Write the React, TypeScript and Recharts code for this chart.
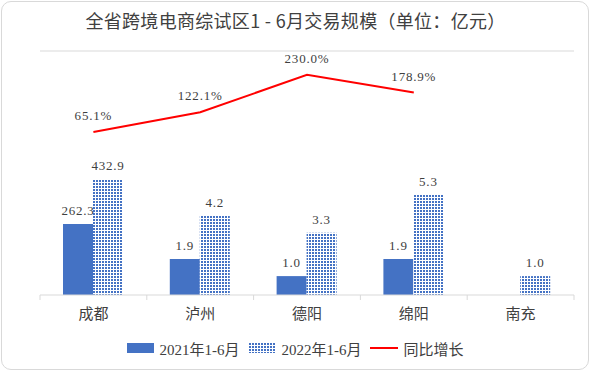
import { ComposedChart, Bar, Line, XAxis, YAxis, LabelList, ReferenceLine } from 'recharts';

const cities = ['成都', '泸州', '德阳', '绵阳', '南充'];
// bar heights as drawn in the picture (成都 is drawn shorter than its label says)
const h2021 = [3.76, 1.9, 1.0, 1.9, null];
const h2022 = [6.14, 4.2, 3.3, 5.3, 1.0];
const labels2021 = ['262.3', '1.9', '1.0', '1.9', ''];
const labels2022 = ['432.9', '4.2', '3.3', '5.3', '1.0'];
const growth = [65.1, 122.1, 230.0, 178.9, null];

const data = cities.map((city, i) => ({
  city,
  v2021: h2021[i],
  v2022: h2022[i],
  l2021: labels2021[i],
  l2022: labels2022[i],
  growth: growth[i],
  lGrowth: growth[i] == null ? '' : `${growth[i]!.toFixed(1)}%`,
}));

const W = 591;
const H = 372;
const margin = { top: 51, right: 17, bottom: 47, left: 40 };
const band = (W - margin.left - margin.right) / cities.length;
const BAR_TOP = 12.91;

const BLUE = '#4472C4';
const GRID = '#d9d9d9';
const TEXT = '#404040';
const SERIF = "'Liberation Serif', 'Noto Sans CJK SC', serif";

function CityTick({ x, y, payload, index }: any) {
  const left = x - band / 2;
  return (
    <g>
      <line x1={left} y1={y} x2={left} y2={y + 5} stroke={GRID} />
      {index === cities.length - 1 && (
        <line x1={x + band / 2} y1={y} x2={x + band / 2} y2={y + 5} stroke={GRID} />
      )}
      <text x={x} y={y + 19} textAnchor="middle" dominantBaseline="central" fill={TEXT} fontSize={15} fontFamily={SERIF}>
        {payload.value}
      </text>
    </g>
  );
}

const labelStyle = { fill: TEXT, fontSize: 13, fontFamily: SERIF, letterSpacing: 0.8 };

function Mesh({ id }: { id: string }) {
  return (
    <pattern id={id} width="3" height="3" patternUnits="userSpaceOnUse">
      <rect width="3" height="3" fill="#fff" />
      <rect width="2" height="2" fill={BLUE} />
    </pattern>
  );
}

export default function App() {
  return (
    <div style={{ position: 'fixed', left: 0, top: 0, width: W, height: H, background: '#fff' }}>
      <div
        style={{
          position: 'absolute', left: 1, top: 1, width: 586, height: 367,
          border: `1px solid ${GRID}`, borderRadius: 10, background: '#fff',
        }}
      />
      <div
        style={{
          position: 'absolute', left: 0, top: 7, width: W, textAlign: 'center',
          fontFamily: "'Noto Sans CJK SC', sans-serif", fontSize: 18, color: TEXT, letterSpacing: 0.3,
        }}
      >
        全省跨境电商综试区1 - 6月交易规模（单位：亿元）
      </div>
      <div style={{ position: 'absolute', left: 0, top: 0 }}>
        <ComposedChart width={W} height={H} data={data} margin={margin} barGap={0} barSize={30}>
          <defs>
            <Mesh id="mesh" />
          </defs>
          <XAxis
            dataKey="city"
            height={30}
            axisLine={{ stroke: GRID }}
            tickLine={false}
            tickSize={0}
            tickMargin={0}
            tick={<CityTick />}
            interval={0}
          />
          <YAxis yAxisId="bar" hide domain={[0, BAR_TOP]} />
          <YAxis yAxisId="rate" hide orientation="right" domain={[-406, 299]} />
          <ReferenceLine yAxisId="bar" y={BAR_TOP} stroke={GRID} />
          <Bar yAxisId="bar" dataKey="v2021" fill={BLUE} isAnimationActive={false}>
            <LabelList dataKey="l2021" position="top" offset={9} style={labelStyle} />
          </Bar>
          <Bar yAxisId="bar" dataKey="v2022" fill="url(#mesh)" isAnimationActive={false}>
            <LabelList dataKey="l2022" position="top" offset={9} style={labelStyle} />
          </Bar>
          <Line
            yAxisId="rate"
            dataKey="growth"
            stroke="#FF0000"
            strokeWidth={2}
            dot={false}
            activeDot={false}
            isAnimationActive={false}
          >
            <LabelList dataKey="lGrowth" position="top" offset={12} style={labelStyle} />
          </Line>
        </ComposedChart>
      </div>
      <div
        style={{
          position: 'absolute', left: 0, top: 338, width: W, height: 20,
          display: 'flex', justifyContent: 'center', alignItems: 'center',
          fontFamily: SERIF, fontSize: 15, color: TEXT,
        }}
      >
        <svg width={27} height={10} style={{ marginRight: 5 }}>
          <rect width={27} height={10} fill={BLUE} />
        </svg>
        <span style={{ marginRight: 10 }}>2021年1-6月</span>
        <svg width={27} height={10} style={{ marginRight: 5 }}>
          <defs>
            <Mesh id="meshLegend" />
          </defs>
          <rect width={27} height={10} fill="url(#meshLegend)" />
        </svg>
        <span style={{ marginRight: 9 }}>2022年1-6月</span>
        <svg width={28} height={10} style={{ marginRight: 5 }}>
          <line x1={0} y1={5} x2={28} y2={5} stroke="#FF0000" strokeWidth={2} />
        </svg>
        <span>同比增长</span>
      </div>
    </div>
  );
}
